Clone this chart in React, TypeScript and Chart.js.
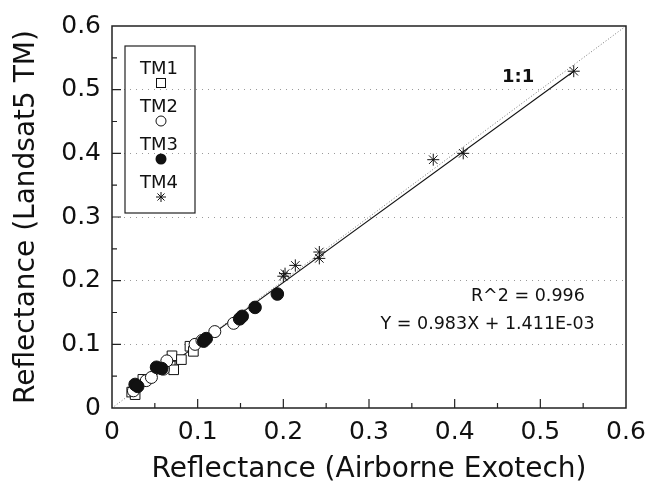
import React, { useEffect, useRef } from "react";
import { Chart, registerables } from "chart.js";

Chart.register(...registerables);

// ---- data ----
const tm1X = [0.023, 0.027, 0.036, 0.068, 0.070, 0.072, 0.081, 0.091, 0.095];
const tm1Y = [0.025, 0.021, 0.045, 0.066, 0.082, 0.060, 0.076, 0.097, 0.089];

const tm2X = [0.025, 0.040, 0.046, 0.060, 0.064, 0.097, 0.105, 0.120, 0.142];
const tm2Y = [0.027, 0.043, 0.048, 0.061, 0.074, 0.100, 0.106, 0.120, 0.133];

const tm3X = [0.027, 0.030, 0.052, 0.058, 0.107, 0.110, 0.149, 0.152, 0.167, 0.193];
const tm3Y = [0.037, 0.034, 0.064, 0.062, 0.105, 0.109, 0.140, 0.144, 0.158, 0.179];

const tm4X = [0.200, 0.202, 0.214, 0.242, 0.242, 0.375, 0.410, 0.539];
const tm4Y = [0.207, 0.211, 0.224, 0.245, 0.235, 0.390, 0.400, 0.529];

const fitX = [0.020, 0.539];
const fitY = [0.021, 0.529];

const oneToOneX = [0, 0.6];
const oneToOneY = [0, 0.6];

const tickLabels = ["0", "0.1", "0.2", "0.3", "0.4", "0.5", "0.6"];
const minorTickValues = [0.05, 0.1, 0.15, 0.2, 0.25, 0.3, 0.35, 0.4, 0.45, 0.5, 0.55];

const xTitle = "Reflectance (Airborne Exotech)";
const yTitle = "Reflectance (Landsat5 TM)";
const legendLabels = ["TM1", "TM2", "TM3", "TM4"];
const oneToOneLabel = "1:1";
const oneToOneLabelPos = [0.474, 0.519];
const statLines = ["R^2 = 0.996", "Y = 0.983X + 1.411E-03"];
const statPos = [
  [0.419, 0.1746],
  [0.3135, 0.1308],
];

const FONT = "'DejaVu Sans', 'Liberation Sans', Arial, sans-serif";
const INK = "#111";

const toPts = (xs: number[], ys: number[]) => xs.map((x, i) => ({ x, y: ys[i] }));

const framePlugin = {
  id: "frameAndExtras",
  afterDatasetsDraw(chart: any) {
    const { ctx, chartArea: a, scales } = chart;
    const xs = scales.x;
    const ys = scales.y;
    ctx.save();
    ctx.strokeStyle = "#222";
    ctx.lineWidth = 1.5;
    ctx.strokeRect(a.left, a.top, a.right - a.left, a.bottom - a.top);
    ctx.lineWidth = 1.2;
    ctx.beginPath();
    minorTickValues.forEach((v) => {
      const major = Math.abs(v * 10 - Math.round(v * 10)) < 1e-6;
      const len = major ? 9 : 5;
      const px = xs.getPixelForValue(v);
      ctx.moveTo(px, a.bottom);
      ctx.lineTo(px, a.bottom - len);
      const py = ys.getPixelForValue(v);
      ctx.moveTo(a.left, py);
      ctx.lineTo(a.left + len, py);
    });
    ctx.stroke();
    ctx.restore();
  },
  afterDraw(chart: any) {
    const { ctx, chartArea: a, scales } = chart;
    const xs = scales.x;
    const ys = scales.y;
    ctx.save();
    // legend box
    const bx = a.left + 13;
    const by = a.top + 20;
    const bw = 70;
    const bh = 167;
    ctx.strokeStyle = "#222";
    ctx.lineWidth = 1.2;
    ctx.strokeRect(bx, by, bw, bh);
    ctx.fillStyle = INK;
    ctx.font = `18px ${FONT}`;
    ctx.textAlign = "center";
    ctx.textBaseline = "middle";
    const cx = bx + 34;
    legendLabels.forEach((lab, i) => {
      const ly = by + 23 + i * 38;
      ctx.fillStyle = INK;
      ctx.fillText(lab, cx, ly);
      const my = ly + 14;
      ctx.strokeStyle = INK;
      ctx.lineWidth = 1;
      if (i === 0) {
        ctx.fillStyle = "#fff";
        ctx.fillRect(cx - 4.5 + 2, my - 4.5, 9, 9);
        ctx.strokeRect(cx - 4.5 + 2, my - 4.5, 9, 9);
      } else if (i === 1) {
        ctx.beginPath();
        ctx.arc(cx + 2, my, 5, 0, Math.PI * 2);
        ctx.fillStyle = "#fff";
        ctx.fill();
        ctx.stroke();
      } else if (i === 2) {
        ctx.beginPath();
        ctx.arc(cx + 2, my, 5.5, 0, Math.PI * 2);
        ctx.fillStyle = INK;
        ctx.fill();
      } else {
        ctx.beginPath();
        const r = 5;
        for (let k = 0; k < 4; k++) {
          const ang = (k * Math.PI) / 4;
          ctx.moveTo(cx + 2 + r * Math.cos(ang), my + r * Math.sin(ang));
          ctx.lineTo(cx + 2 - r * Math.cos(ang), my - r * Math.sin(ang));
        }
        ctx.stroke();
      }
    });
    // 1:1 label
    ctx.fillStyle = INK;
    ctx.font = `bold 18px ${FONT}`;
    ctx.textAlign = "center";
    ctx.fillText(
      oneToOneLabel,
      xs.getPixelForValue(oneToOneLabelPos[0]),
      ys.getPixelForValue(oneToOneLabelPos[1])
    );
    // statistics
    ctx.font = `17.5px ${FONT}`;
    ctx.textAlign = "left";
    statLines.forEach((s, i) => {
      ctx.fillText(s, xs.getPixelForValue(statPos[i][0]), ys.getPixelForValue(statPos[i][1]));
    });
    ctx.restore();
  },
};

export default function App() {
  const ref = useRef<HTMLCanvasElement | null>(null);

  useEffect(() => {
    document.body.style.margin = "0";
    const canvas = ref.current;
    if (!canvas) return;
    const chart = new Chart(canvas, {
      type: "scatter",
      data: {
        datasets: [
          {
            type: "line",
            label: "1:1",
            data: toPts(oneToOneX, oneToOneY),
            borderColor: "#777",
            borderWidth: 1,
            borderDash: [1, 2],
            pointRadius: 0,
            fill: false,
            order: 5,
          } as any,
          {
            type: "line",
            label: "fit",
            data: toPts(fitX, fitY),
            borderColor: "#111",
            borderWidth: 1.1,
            pointRadius: 0,
            fill: false,
            order: 4,
          } as any,
          {
            label: "TM1",
            data: toPts(tm1X, tm1Y),
            pointStyle: "rect",
            pointRadius: 6.8,
            backgroundColor: "#fff",
            borderColor: INK,
            pointBorderWidth: 1,
            order: 3,
          },
          {
            label: "TM2",
            data: toPts(tm2X, tm2Y),
            pointStyle: "circle",
            pointRadius: 6,
            backgroundColor: "#fff",
            borderColor: INK,
            pointBorderWidth: 1,
            order: 2,
          },
          {
            label: "TM3",
            data: toPts(tm3X, tm3Y),
            pointStyle: "circle",
            pointRadius: 6.3,
            backgroundColor: INK,
            borderColor: INK,
            pointBorderWidth: 1,
            order: 1,
          },
          {
            label: "TM4",
            data: toPts(tm4X, tm4Y),
            pointStyle: "star",
            pointRadius: 6,
            backgroundColor: INK,
            borderColor: INK,
            pointBorderWidth: 1,
            order: 0,
          },
        ],
      },
      options: {
        animation: false,
        responsive: true,
        maintainAspectRatio: false,
        events: [],
        layout: { padding: { left: 0, top: 19, right: 34, bottom: 0 } },
        plugins: {
          legend: { display: false },
          tooltip: { enabled: false },
        },
        scales: {
          x: {
            type: "linear",
            min: 0,
            max: 0.6,
            afterFit: (s: any) => {
              s.height = 77;
            },
            grid: { display: false, drawTicks: false },
            border: { display: false },
            ticks: {
              stepSize: 0.1,
              padding: 9,
              color: INK,
              font: { family: FONT, size: 25 },
              callback: (_v: any, i: number) => tickLabels[i],
              maxRotation: 0,
              autoSkip: false,
            },
            title: {
              display: true,
              text: xTitle,
              color: INK,
              font: { family: FONT, size: 28, lineHeight: 1 },
              padding: { top: 0, bottom: 1 },
            },
          },
          y: {
            type: "linear",
            min: 0,
            max: 0.6,
            afterFit: (s: any) => {
              s.width = 112;
            },
            grid: {
              drawTicks: false,
              lineWidth: 1,
              color: (c: any) =>
                c.tick && (c.tick.value <= 0.001 || c.tick.value >= 0.599) ? "rgba(0,0,0,0)" : "#9a9a9a",
            },
            border: { display: false, dash: [1, 5] },
            ticks: {
              stepSize: 0.1,
              padding: 11,
              color: INK,
              font: { family: FONT, size: 25 },
              callback: (_v: any, i: number) => tickLabels[i],
              autoSkip: false,
            },
            title: {
              display: true,
              text: yTitle,
              color: INK,
              font: { family: FONT, size: 28, lineHeight: 1 },
              padding: { top: 13, bottom: 0 },
            },
          },
        },
      },
      plugins: [framePlugin],
    } as any);
    return () => chart.destroy();
  }, []);

  return (
    <div style={{ position: "absolute", left: 0, top: 0, width: 660, height: 485, background: "#fff" }}>
      <canvas ref={ref} />
    </div>
  );
}
